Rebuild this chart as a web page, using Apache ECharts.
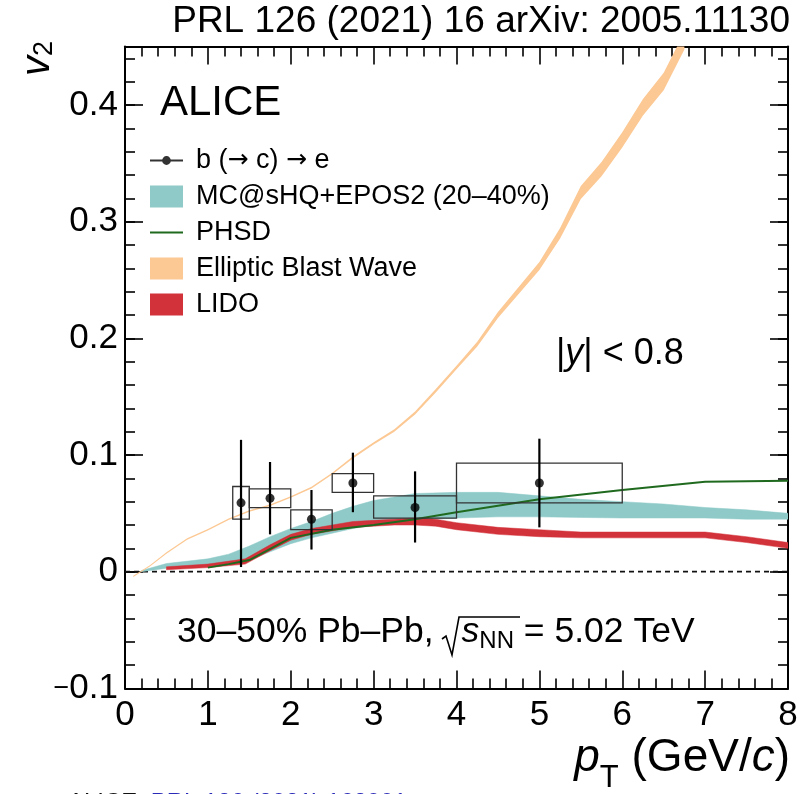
<!DOCTYPE html>
<html>
<head>
<meta charset="utf-8">
<script src="https://cdn.jsdelivr.net/npm/echarts@6/dist/echarts.min.js"></script>
<style>
  html, body { margin: 0; padding: 0; background: #fff; }
  #chart { width: 805px; height: 794px; }
</style>
</head>
<body>
<div id="chart"></div>
<script>
// ---- b (-> c) -> e measurement ----
const ptData   = [1.4, 1.75, 2.25, 2.75, 3.5, 5.0];
const v2Data   = [0.059, 0.063, 0.045, 0.076, 0.055, 0.076];
const statLow  = [0.004, 0.032, 0.019, 0.051, 0.025, 0.038];
const statHigh = [0.113, 0.094, 0.070, 0.102, 0.086, 0.114];
const sysPtLow  = [1.3, 1.5, 2.0, 2.5, 3.0, 4.0];
const sysPtHigh = [1.5, 2.0, 2.5, 3.0, 4.0, 6.0];
const sysLow  = [0.045, 0.055, 0.036, 0.068, 0.046, 0.059];
const sysHigh = [0.073, 0.071, 0.053, 0.084, 0.065, 0.093];

// ---- MC@sHQ+EPOS2 (20-40%) band ----
const mcPt   = [0.2, 0.5, 1.0, 1.25, 1.5, 1.75, 2.0, 2.25, 2.5, 2.75, 3.0, 3.25, 3.5, 4.0, 4.5, 5.0, 5.5, 6.0, 6.5, 7.0, 7.5, 8.0];
const mcLow  = [0.0, 0.003, 0.004, 0.006, 0.010, 0.017, 0.024, 0.029, 0.033, 0.037, 0.040, 0.042, 0.044, 0.046, 0.047, 0.047, 0.0465, 0.046, 0.046, 0.046, 0.045, 0.045];
const mcHigh = [0.001, 0.007, 0.011, 0.015, 0.022, 0.030, 0.037, 0.043, 0.050, 0.056, 0.061, 0.064, 0.067, 0.068, 0.068, 0.065, 0.062, 0.060, 0.058, 0.055, 0.053, 0.050];

// ---- PHSD curve ----
const phsdPt = [1.0, 1.25, 1.5, 2.0, 2.5, 3.0, 3.5, 4.0, 5.0, 6.0, 7.0, 8.0];
const phsdV2 = [0.0035, 0.0065, 0.010, 0.029, 0.036, 0.040, 0.045, 0.051, 0.062, 0.070, 0.077, 0.078];

// ---- Elliptic Blast Wave band ----
const ebwPt   = [0.1, 0.3, 0.5, 0.75, 1.0, 1.25, 1.5, 1.75, 2.0, 2.25, 2.5, 2.75, 3.0, 3.25, 3.5, 3.75, 4.0, 4.25, 4.5, 4.75, 5.0, 5.25, 5.5, 5.75, 6.0, 6.25, 6.5, 6.75];
const ebwLow  = [-0.0046, 0.0044, 0.0154, 0.0274, 0.0354, 0.0444, 0.0514, 0.0564, 0.0634, 0.0713, 0.0832, 0.0971, 0.109, 0.1199, 0.1347, 0.1535, 0.1735, 0.193, 0.2175, 0.238, 0.2585, 0.2855, 0.3195, 0.339, 0.3635, 0.391, 0.4125, 0.4475];
const ebwHigh = [-0.0034, 0.0056, 0.0166, 0.0286, 0.0366, 0.0456, 0.0526, 0.0576, 0.0646, 0.0727, 0.0848, 0.0989, 0.111, 0.1221, 0.1373, 0.1565, 0.1765, 0.197, 0.2225, 0.244, 0.2655, 0.2945, 0.3305, 0.351, 0.3765, 0.405, 0.4275, 0.4625];

// ---- LIDO band ----
const lidoPt   = [0.5, 1.0, 1.45, 1.75, 2.0, 2.25, 2.5, 2.75, 3.0, 3.25, 3.5, 3.75, 4.0, 4.5, 5.0, 5.5, 6.0, 6.5, 7.0, 7.5, 8.0];
const lidoLow  = [0.0017, 0.0035, 0.0065, 0.018, 0.027, 0.032, 0.035, 0.038, 0.039, 0.040, 0.040, 0.039, 0.036, 0.032, 0.030, 0.029, 0.029, 0.029, 0.029, 0.025, 0.020];
const lidoHigh = [0.0042, 0.0065, 0.011, 0.023, 0.032, 0.037, 0.040, 0.043, 0.044, 0.045, 0.046, 0.045, 0.042, 0.038, 0.036, 0.034, 0.034, 0.034, 0.034, 0.030, 0.025];

// ---- zero reference line ----
const zeroPt = [0, 8];
const zeroV2 = [0, 0];

// ---- axis ticks ----
const xTicks = { min: 0, max: 8, major: 1, minorSplit: 5 };
const yTicks = { min: -0.1, max: 0.45, major: 0.1, minor: 0.02 };

const FONT = "'Liberation Sans', Arial, Helvetica, sans-serif";
const ARROW_FONT = "'DejaVu Sans', sans-serif";
const C_MC = '#8fcac8';
const C_PHSD = '#1f6a1f';
const C_EBW = '#fcc893';
const C_LIDO = '#d2323a';
const DATA_NAME = 'b (\u2192 c) \u2192 e';

const chart = echarts.init(document.getElementById('chart'), null, { renderer: 'canvas' });

function bandSeries(name, xs, lo, hi, color, z, strokeW) {
  return {
    type: 'custom', name: name, z: z, clip: true, silent: true,
    xAxisIndex: 0, yAxisIndex: 0,
    itemStyle: { color: color },
    data: xs.map((x, i) => [x, lo[i], hi[i]]),
    encode: { x: 0, y: [1, 2] },
    renderItem: function (params, api) {
      if (params.dataIndex !== 0) return null;
      const pts = [];
      for (let i = 0; i < xs.length; i++) pts.push(api.coord([xs[i], lo[i]]));
      for (let i = xs.length - 1; i >= 0; i--) pts.push(api.coord([xs[i], hi[i]]));
      return { type: 'polygon', shape: { points: pts },
               style: { fill: color, stroke: strokeW > 0 ? color : null, lineWidth: strokeW } };
    }
  };
}

const lineBlack = { color: '#000', width: 2 };
const tickStyle = { color: '#000', width: 1.6 };
const LABEL_SIZE = 35;

function xAxisDef(pos, showLabel) {
  return {
    type: 'value', position: pos, min: xTicks.min, max: xTicks.max, interval: xTicks.major,
    axisLine: { show: true, onZero: false, lineStyle: lineBlack },
    axisTick: { show: true, inside: true, length: 18, lineStyle: tickStyle },
    minorTick: { show: true, splitNumber: xTicks.minorSplit, length: 10, lineStyle: tickStyle },
    splitLine: { show: false },
    axisLabel: { show: showLabel, color: '#000', fontSize: LABEL_SIZE, fontFamily: FONT, margin: 9 }
  };
}
function yAxisDef(pos, interval, len, showLine, showLabel) {
  return {
    type: 'value', position: pos, min: yTicks.min, max: yTicks.max, interval: interval,
    axisLine: { show: showLine, onZero: false, lineStyle: lineBlack },
    axisTick: { show: true, inside: true, length: len, lineStyle: tickStyle },
    splitLine: { show: false },
    axisLabel: {
      show: showLabel, color: '#000', fontSize: LABEL_SIZE, fontFamily: FONT, margin: 7,
      showMaxLabel: false, showMinLabel: true,
      rich: { m: { fontSize: 27, fontFamily: FONT, color: '#000' } },
      formatter: function (v) {
        if (Math.abs(v) < 1e-9) return '0';
        return v < 0 ? '{m|\u2212}' + Math.abs(v).toFixed(1) : v.toFixed(1);
      }
    }
  };
}

const option = {
  backgroundColor: '#fff',
  animation: false,
  grid: { left: 125, right: 17, top: 46.6, bottom: 105.6, containLabel: false },
  xAxis: [xAxisDef('bottom', true), xAxisDef('top', false)],
  yAxis: [
    yAxisDef('left', yTicks.major, 18, true, true),
    yAxisDef('left', yTicks.minor, 10, false, false),
    yAxisDef('right', yTicks.major, 18, true, false),
    yAxisDef('right', yTicks.minor, 10, false, false)
  ],
  legend: {
    orient: 'vertical', left: 150, top: 147, padding: 0,
    itemWidth: 33, itemHeight: 22, itemGap: 9, selectedMode: false,
    textStyle: {
      fontSize: 27, color: '#000', fontFamily: FONT, padding: [0, 0, 0, 8],
      rich: {
        t: { fontSize: 27, fontFamily: FONT, color: '#000' },
        a: { fontSize: 25, fontFamily: ARROW_FONT, color: '#000' }
      }
    },
    formatter: function (name) {
      if (name === DATA_NAME) return '{t|b (}{a|\u2192}{t| c) }{a|\u2192}{t| e}';
      return name;
    },
    data: [
      { name: DATA_NAME, icon: 'path://M0,10 L33,10 L33,12 L0,12 Z M16.5,6.6 A4.4,4.4 0 1 1 16.49,6.6 Z' },
      { name: 'MC@sHQ+EPOS2 (20\u201340%)', icon: 'rect' },
      { name: 'PHSD', icon: 'path://M0,0 L33,0 L33,2 L0,2 Z' },
      { name: 'Elliptic Blast Wave', icon: 'rect' },
      { name: 'LIDO', icon: 'rect' }
    ]
  },
  series: [
    {
      type: 'line', name: 'zero', data: zeroPt.map((x, i) => [x, zeroV2[i]]),
      symbol: 'none', silent: true, z: 1,
      lineStyle: { color: '#111', width: 1.8, type: [5, 4] }
    },
    bandSeries('MC@sHQ+EPOS2 (20\u201340%)', mcPt, mcLow, mcHigh, C_MC, 2, 0.5),
    bandSeries('Elliptic Blast Wave', ebwPt, ebwLow, ebwHigh, C_EBW, 3, 0),
    bandSeries('LIDO', lidoPt, lidoLow, lidoHigh, C_LIDO, 4, 0.5),
    {
      type: 'line', name: 'PHSD', z: 5, silent: true,
      data: phsdPt.map((x, i) => [x, phsdV2[i]]),
      symbol: 'none', lineStyle: { color: C_PHSD, width: 2 }, itemStyle: { color: C_PHSD }
    },
    {
      type: 'custom', name: 'syst', z: 6, silent: true,
      data: sysPtLow.map((x, i) => [x, sysPtHigh[i], sysLow[i], sysHigh[i]]),
      renderItem: function (params, api) {
        const a = api.coord([api.value(0), api.value(3)]);
        const b = api.coord([api.value(1), api.value(2)]);
        return { type: 'rect', shape: { x: a[0], y: a[1], width: b[0] - a[0], height: b[1] - a[1] },
                 style: { fill: 'none', stroke: '#333', lineWidth: 1.3 } };
      }
    },
    {
      type: 'custom', name: 'stat', z: 7, silent: true,
      data: ptData.map((x, i) => [x, statLow[i], statHigh[i]]),
      renderItem: function (params, api) {
        const a = api.coord([api.value(0), api.value(1)]);
        const b = api.coord([api.value(0), api.value(2)]);
        return { type: 'line', shape: { x1: a[0], y1: a[1], x2: b[0], y2: b[1] },
                 style: { stroke: '#000', lineWidth: 2.2 } };
      }
    },
    {
      type: 'scatter', name: DATA_NAME, z: 8, silent: true,
      data: ptData.map((x, i) => [x, v2Data[i]]),
      symbol: 'circle', symbolSize: 9, itemStyle: { color: '#000' }
    }
  ],
  graphic: [
    { type: 'text', right: 15, top: 3, style: { text: 'PRL 126 (2021) 16 arXiv: 2005.11130', font: '37px ' + FONT, fill: '#000' } },
    { type: 'text', left: 160, top: 82, style: { text: 'ALICE', font: '42px ' + FONT, fill: '#000' } },
    { type: 'text', left: 556, top: 336, style: {
        text: '{n||}{i|y}{n|| < 0.8}',
        rich: { n: { fontSize: 36, fontFamily: FONT, fill: '#000' }, i: { fontSize: 36, fontFamily: FONT, fontStyle: 'italic', fill: '#000' } }
    } },
    { type: 'text', left: 177, top: 614, style: {
        text: '{n|30\u201350% Pb\u2013Pb,}{r|s}{s|NN}{n| = 5.02 TeV}',
        rich: {
          n: { fontSize: 35.5, fontFamily: FONT, fill: '#000', lineHeight: 43 },
          r: { fontSize: 35.5, fontFamily: FONT, fontStyle: 'italic', fill: '#000', lineHeight: 43, padding: [0, 0, 0, 28] },
          s: { fontSize: 24, fontFamily: FONT, fill: '#000', lineHeight: 14, verticalAlign: 'bottom' }
        }
    } },
    // square-root sign over s_NN
    { type: 'polyline', shape: { points: [[442, 639], [446, 636], [452, 655], [459, 617], [520, 617]] },
      style: { stroke: '#000', lineWidth: 1.6, fill: null } },
    { type: 'text', x: 58, y: 76, rotation: Math.PI / 2, style: {
        text: '{v|v}{s|2}', align: 'left', verticalAlign: 'bottom',
        rich: {
          v: { fontSize: 40, fontFamily: FONT, fontStyle: 'italic', fill: '#000', lineHeight: 40 },
          s: { fontSize: 27, fontFamily: FONT, fill: '#000', lineHeight: 14, verticalAlign: 'bottom' }
        }
    } },
    { type: 'text', right: 15, top: 735, style: {
        text: '{p|p}{t|T}{n| (GeV/}{c|c}{n|)}',
        rich: {
          p: { fontSize: 46, fontFamily: FONT, fontStyle: 'italic', fill: '#000', lineHeight: 72 },
          t: { fontSize: 31, fontFamily: FONT, fill: '#000', lineHeight: 16, verticalAlign: 'bottom' },
          n: { fontSize: 46, fontFamily: FONT, fill: '#000', lineHeight: 72 },
          c: { fontSize: 46, fontFamily: FONT, fontStyle: 'italic', fill: '#000', lineHeight: 72 }
        }
    } },
    { type: 'text', left: 68, top: 791, style: {
        text: '{k|ALICE, }{b|PRL 126 (2021) 162001}',
        rich: { k: { fontSize: 24, fontFamily: FONT, fill: '#111' }, b: { fontSize: 24, fontFamily: FONT, fill: '#2a2ab8' } }
    } }
  ]
};
chart.setOption(option);
</script>
</body>
</html>
